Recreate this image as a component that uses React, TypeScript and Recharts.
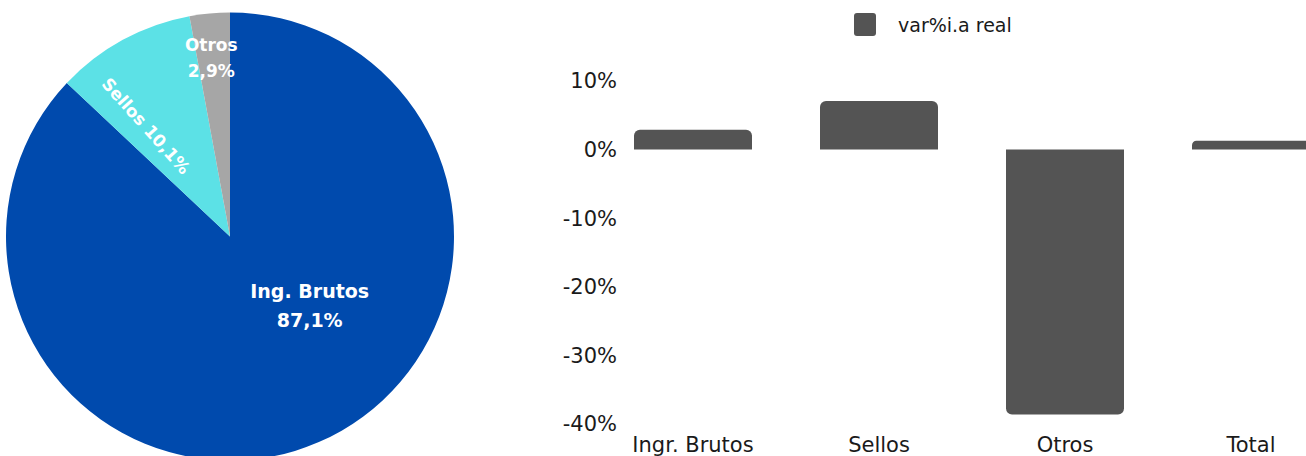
import {Bar, BarChart, Cell, Legend, Pie, PieChart, XAxis, YAxis} from "recharts";

const pieNames = ["Ing. Brutos", "Sellos", "Otros"];
const pieShares = [87.1, 10.1, 2.9];
const pieColors = ["#004AAD", "#5CE1E6", "#A6A6A6"];
const pieLabelLines = [["Ing. Brutos", "87,1%"], ["Sellos 10,1%"], ["Otros", "2,9%"]];
// where each slice label sits: polar angle (deg), share of radius, text rotation, size
const pieLabelAngle = [-40.8, 127.2, 96];
const pieLabelDist = [0.47, 0.62, 0.8];
const pieLabelRotate = [0, 48, 0];
const pieLabelSize = [19, 17, 17];

const barCategories = ["Ingr. Brutos", "Sellos", "Otros", "Total"];
const barValues = [2.9, 7.1, -38.6, 1.3];
const yTicks = [-40, -30, -20, -10, 0, 10];

const pieData = pieNames.map((name, i) => ({name, value: pieShares[i]}));
const barData = barCategories.map((cat, i) => ({cat, value: barValues[i]}));

const FONT = "'DejaVu Sans', sans-serif";
const RAD = Math.PI / 180;

const renderPieLabel = (props: any) => {
  const {cx, cy, outerRadius, index} = props;
  const r = outerRadius * pieLabelDist[index];
  const x = cx + r * Math.cos(pieLabelAngle[index] * RAD);
  const y = cy - r * Math.sin(pieLabelAngle[index] * RAD);
  const lines = pieLabelLines[index];
  const size = pieLabelSize[index];
  const lh = index === 0 ? 29 : 26;
  return (
    <text
      x={x}
      y={y}
      fill="#fff"
      fontFamily={FONT}
      fontWeight={700}
      fontSize={size}
      textAnchor="middle"
      transform={pieLabelRotate[index] ? `rotate(${pieLabelRotate[index]} ${x} ${y})` : undefined}
    >
      {lines.map((t, i) => (
        <tspan key={i} x={x} dy={i === 0 ? (-(lines.length - 1) * lh) / 2 + size * 0.36 : lh}>
          {t}
        </tspan>
      ))}
    </text>
  );
};

const renderLegend = () => (
  <div style={{display: "flex", alignItems: "center", fontFamily: FONT, fontSize: 19, color: "#1a1a1a"}}>
    <span style={{width: 22, height: 23, background: "#545454", borderRadius: 3, marginRight: 22}}/>
    <span>var%i.a real</span>
  </div>
);

export default function App() {
  return (
    <div style={{position: "absolute", left: 0, top: 0, width: 1306, height: 456, overflow: "hidden", background: "#fff"}}>
      <div style={{position: "absolute", left: 0, top: 0}}>
        <PieChart width={470} height={480} margin={{top: 0, right: 0, bottom: 0, left: 0}}>
          <Pie
            data={pieData}
            dataKey="value"
            cx={230}
            cy={236.5}
            outerRadius={224}
            startAngle={90}
            endAngle={-270}
            stroke="none"
            labelLine={false}
            label={renderPieLabel}
            isAnimationActive={false}
          >
            {pieData.map((d, i) => (
              <Cell key={d.name} fill={pieColors[i]}/>
            ))}
          </Pie>
        </PieChart>
      </div>
      <div style={{position: "absolute", left: 470, top: 0}}>
        <BarChart width={874} height={480} data={barData} margin={{top: 81, right: 0, left: 0, bottom: 26}}>
          <Legend
            verticalAlign="middle"
            align="center"
            content={renderLegend}
            wrapperStyle={{top: 13, left: 384, width: "auto"}}
          />
          <XAxis
            dataKey="cat"
            axisLine={false}
            tickLine={false}
            tickSize={0}
            tickMargin={13}
            height={30}
            interval={0}
            tick={{fill: "#1a1a1a", fontSize: 21, fontFamily: FONT}}
          />
          <YAxis
            domain={[-40, 10]}
            ticks={yTicks}
            width={130}
            axisLine={false}
            tickLine={false}
            tickSize={0}
            tickMargin={8}
            tickFormatter={(v: number) => `${v}%`}
            tick={{fill: "#1a1a1a", fontSize: 21, fontFamily: FONT, dx: 25}}
          />
          <Bar dataKey="value" fill="#545454" barSize={118} radius={[6, 6, 0, 0]} isAnimationActive={false}/>
        </BarChart>
      </div>
    </div>
  );
}
